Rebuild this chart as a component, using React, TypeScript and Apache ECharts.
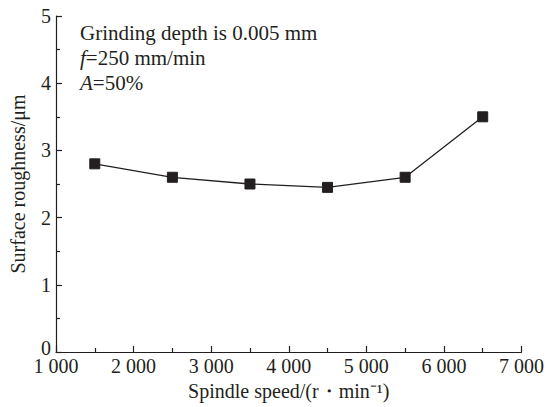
import React, { useEffect, useRef } from "react";
import * as echarts from "echarts";

const speeds = [1500, 2500, 3500, 4500, 5500, 6500];
const roughness = [2.8, 2.6, 2.5, 2.45, 2.6, 3.5];
const xTicks = [1000, 2000, 3000, 4000, 5000, 6000, 7000];
const yTicks = [0, 1, 2, 3, 4, 5];
const noteLines = ["Grinding depth is 0.005 mm", "{i|f}=250 mm/min", "{i|A}=50%"];

const FONT = "'Liberation Serif', 'Times New Roman', serif";
const INK = "#231f20";

export default function App() {
  const ref = useRef<HTMLDivElement>(null);
  useEffect(() => {
    document.body.style.margin = "0";
    if (!ref.current) return;
    const chart = echarts.init(ref.current, undefined, { renderer: "svg" });
    const fmtX = (v: number) => {
      const s = String(Math.round(v));
      return s.length > 3 ? s.slice(0, s.length - 3) + " " + s.slice(-3) : s;
    };
    chart.setOption({
      animation: false,
      backgroundColor: "#ffffff",
      grid: { left: 56, right: 23, top: 16, bottom: 55, containLabel: false },
      xAxis: {
        type: "value",
        min: xTicks[0],
        max: xTicks[xTicks.length - 1],
        interval: 1000,
        name: "Spindle speed/(r・min⁻¹)",
        nameLocation: "middle",
        nameGap: 28,
        nameTextStyle: { fontFamily: FONT, fontSize: 20, color: INK },
        axisLine: { show: true, lineStyle: { color: INK, width: 1.2 } },
        axisTick: { show: true, inside: true, length: 6, lineStyle: { color: INK, width: 1.2 } },
        minorTick: { show: true, splitNumber: 2, length: 4, lineStyle: { color: INK, width: 1.2 } },
        splitLine: { show: false },
        axisLabel: {
          fontFamily: FONT,
          fontSize: 20,
          color: INK,
          margin: 4,
          formatter: (v: number) => fmtX(v),
        },
      },
      yAxis: {
        type: "value",
        min: yTicks[0],
        max: yTicks[yTicks.length - 1],
        interval: 1,
        name: "Surface roughness/μm",
        nameLocation: "middle",
        nameGap: 28,
        nameTextStyle: { fontFamily: FONT, fontSize: 20, color: INK },
        axisLine: { show: true, lineStyle: { color: INK, width: 1.2 } },
        axisTick: { show: true, inside: true, length: 6, lineStyle: { color: INK, width: 1.2 } },
        minorTick: { show: true, splitNumber: 2, length: 4, lineStyle: { color: INK, width: 1.2 } },
        splitLine: { show: false },
        axisLabel: {
          fontFamily: FONT,
          fontSize: 20,
          color: INK,
          margin: 5,
          formatter: (v: number) => (v === 0 ? "{z|0}" : String(v)),
          rich: {
            z: { fontFamily: FONT, fontSize: 20, color: INK, padding: [0, 0, 8, 0] },
          },
        },
      },
      graphic: [
        {
          type: "text",
          left: 80,
          top: 20,
          style: {
            text: noteLines.join("\n"),
            fontFamily: FONT,
            fontSize: 21,
            lineHeight: 25,
            fill: INK,
            rich: {
              i: { fontFamily: FONT, fontSize: 21, fontStyle: "italic", fill: INK, lineHeight: 25 },
            },
          },
        },
      ],
      series: [
        {
          type: "line",
          data: speeds.map((s, i) => [s, roughness[i]]),
          symbol: "rect",
          symbolSize: 10,
          itemStyle: { color: INK, borderColor: INK },
          lineStyle: { color: INK, width: 1.3 },
        },
      ],
    });
    return () => chart.dispose();
  }, []);
  return <div ref={ref} style={{ width: 547, height: 407 }} />;
}
